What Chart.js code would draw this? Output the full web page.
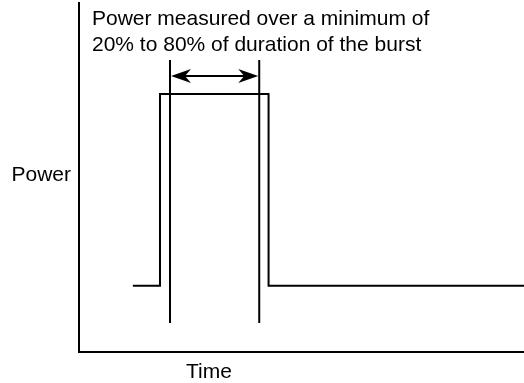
<!DOCTYPE html>
<html>
<head>
<meta charset="utf-8">
<script src="https://cdn.jsdelivr.net/npm/chart.js@4.4.1/dist/chart.umd.min.js"></script>
<style>
  html, body { margin: 0; padding: 0; background: #ffffff; }
  #wrap { width: 524px; height: 383px; }
</style>
</head>
<body>
<div id="wrap"><canvas id="c"></canvas></div>
<script>
// Burst power envelope (arbitrary time / power units)
const pulseTime  = [12.1, 18.2, 18.2, 42.6, 42.6, 100];
const pulsePower = [19.0, 19.0, 73.9, 73.9, 19.0, 19.0];

// Measurement window boundaries
const windowTimes  = [20.45, 40.5];
const windowPower  = [8.3, 83.7];   // vertical extent of the boundary lines
const arrowPower   = 79.1;          // level of the double-headed arrow

const noteLines  = ['Power measured over a minimum of', '20% to 80% of duration of the burst'];
const yAxisLabel = 'Power';
const xAxisLabel = 'Time';

const FONT = '21px "Liberation Sans", Arial, Helvetica, sans-serif';

const pulseData = pulseTime.map((t, i) => ({ x: t, y: pulsePower[i] }));
const windowSets = windowTimes.map(t => ({
  data: windowPower.map(p => ({ x: t, y: p })),
  borderColor: '#000', borderWidth: 2, pointRadius: 0, showLine: true, fill: false
}));

const decorations = {
  id: 'decorations',
  afterDatasetsDraw(chart) {
    const { ctx, scales: { x, y }, chartArea } = chart;
    ctx.save();
    // double-headed arrow between the window boundaries
    const ay = y.getPixelForValue(arrowPower);
    const x1 = x.getPixelForValue(windowTimes[0]) + 1;
    const x2 = x.getPixelForValue(windowTimes[1]) - 1;
    const head = 20, half = 7, notch = 6;
    ctx.strokeStyle = '#000';
    ctx.fillStyle = '#000';
    ctx.lineWidth = 2;
    ctx.beginPath();
    ctx.moveTo(x1 + head - notch, ay);
    ctx.lineTo(x2 - head + notch, ay);
    ctx.stroke();
    ctx.beginPath();
    ctx.moveTo(x1, ay);
    ctx.lineTo(x1 + head, ay - half);
    ctx.lineTo(x1 + head - notch, ay);
    ctx.lineTo(x1 + head, ay + half);
    ctx.closePath();
    ctx.fill();
    ctx.beginPath();
    ctx.moveTo(x2, ay);
    ctx.lineTo(x2 - head, ay - half);
    ctx.lineTo(x2 - head + notch, ay);
    ctx.lineTo(x2 - head, ay + half);
    ctx.closePath();
    ctx.fill();

    // text labels
    ctx.font = FONT;
    ctx.textBaseline = 'alphabetic';
    ctx.textAlign = 'left';
    ctx.fillText(noteLines[0], chartArea.left + 13, 25);
    ctx.fillText(noteLines[1], chartArea.left + 13, 51);
    ctx.textAlign = 'right';
    ctx.fillText(yAxisLabel, chartArea.left - 8, 181);
    ctx.textAlign = 'center';
    ctx.fillText(xAxisLabel, 209, 378);
    ctx.restore();
  }
};

new Chart(document.getElementById('c'), {
  type: 'scatter',
  data: {
    datasets: [
      { data: pulseData, borderColor: '#000', borderWidth: 2, pointRadius: 0, showLine: true, fill: false },
      ...windowSets
    ]
  },
  options: {
    responsive: true,
    maintainAspectRatio: false,
    animation: false,
    layout: { padding: { left: 79, right: 0, top: 3, bottom: 31 } },
    plugins: { legend: { display: false }, tooltip: { enabled: false } },
    scales: {
      x: {
        type: 'linear', min: 0, max: 100,
        ticks: { display: false },
        grid: { display: false, drawTicks: false },
        border: { display: true, color: '#000', width: 2 },
        afterFit(s) { s.height = 0; }
      },
      y: {
        type: 'linear', min: 0, max: 100,
        ticks: { display: false },
        grid: { display: false, drawTicks: false },
        border: { display: true, color: '#000', width: 2 },
        afterFit(s) { s.width = 0; }
      }
    }
  },
  plugins: [decorations]
});
</script>
</body>
</html>
